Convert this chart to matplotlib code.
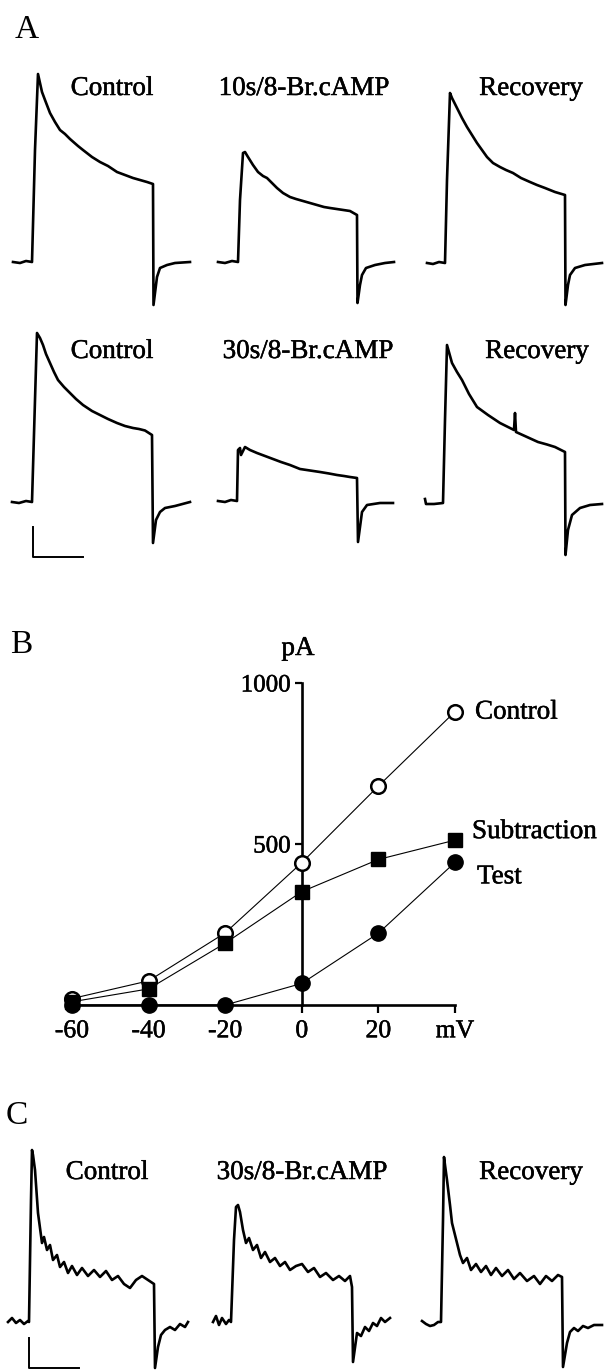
import matplotlib
matplotlib.use("Agg")
import matplotlib.pyplot as plt
import matplotlib.patheffects as pe

# ---------------- data ----------------
# Panel A / C traces: time (ms, 0 = pulse onset) and current (pA, 0 = holding level)
A1_ctrl_t = [-19, -12, -6, 0, 3, 6, 10, 13, 18, 23, 28, 33, 38, 46, 51, 60, 68, 76, 85, 93, 101, 108, 115, 121, 121.5, 125, 128, 135, 143, 158]
A1_ctrl_i = [0, -10, 10, 0, 1120, 1880, 1700, 1620, 1490, 1400, 1320, 1280, 1230, 1160, 1120, 1050, 1000, 960, 900, 870, 840, 820, 800, 780, -430, -150, -60, -30, -10, 0]

A1_10s_t = [-20, -13, -6, 0, 2, 5, 7, 10, 15, 20, 25, 29, 34, 39, 45, 52, 58, 65, 72, 79, 86, 92, 102, 112, 119, 119.5, 122, 124, 128, 137, 147, 156]
A1_10s_i = [0, -10, 10, 0, 620, 1090, 1100, 1050, 970, 900, 860, 840, 790, 740, 690, 650, 630, 610, 590, 570, 550, 540, 525, 510, 470, -410, -230, -130, -60, -30, -10, 0]

A1_rec_t = [-18, -12, -6, 0, 2, 5, 7, 12, 17, 22, 27, 32, 37, 42, 48, 55, 61, 68, 76, 85, 92, 100, 110, 120, 120.5, 123, 125, 130, 140, 157]
A1_rec_i = [0, -10, 10, 0, 830, 1700, 1650, 1550, 1450, 1360, 1280, 1200, 1130, 1060, 1000, 960, 930, 900, 850, 810, 780, 750, 710, 680, -420, -220, -120, -50, -20, 0]

A2_ctrl_t = [-20, -13, -6, 0, 3, 5, 8, 11, 14, 18, 22, 26, 32, 38, 44, 51, 60, 68, 76, 85, 93, 101, 107, 113, 120, 121, 124, 128, 133, 143, 158]
A2_ctrl_i = [0, -10, 10, 0, 1020, 1690, 1640, 1570, 1480, 1390, 1300, 1220, 1150, 1090, 1030, 970, 910, 870, 830, 790, 760, 740, 730, 715, 670, -410, -180, -100, -60, -40, 0]

A2_30s_t = [-19, -12, -6, 0, 1, 3, 4, 8, 13, 20, 28, 36, 44, 53, 63, 73, 83, 92, 100, 107, 113, 120, 121, 125, 130, 143, 156]
A2_30s_i = [0, -10, 10, 0, 510, 530, 460, 540, 510, 480, 450, 420, 390, 360, 320, 305, 290, 275, 260, 250, 240, 230, -410, -110, -40, -20, -20]

A2_rec_t = [-18, -17, -9, 0, 2, 4, 9, 14, 19, 26, 34, 45, 57, 65, 71, 72, 73, 84, 95, 104, 112, 122, 122.5, 125, 129, 137, 147, 159]
A2_rec_i = [40, -10, -10, 0, 830, 1580, 1400, 1310, 1230, 1090, 960, 880, 800, 760, 730, 900, 710, 660, 610, 585, 560, 510, -520, -270, -120, -50, -20, -10]

C_ctrl_t = [-21, -17, -13, -9, -5, -1, 0, 2, 3, 4, 6, 9, 13, 15, 18, 21, 24, 28, 31, 35, 39, 43, 48, 53, 59, 65, 71, 77, 83, 89, 95, 101, 107, 113, 119, 125,
            126, 129, 132, 136, 141, 146, 151, 156, 159]
C_ctrl_i = [0, 40, -10, 20, -20, 10, 0, 1220, 1720, 1670, 1520, 1090, 790, 850, 720, 770, 620, 670, 550, 600, 490, 560, 470, 540, 460, 520, 450, 510, 420, 460, 380, 340, 420, 460, 420, 380,
            -460, -250, -130, -80, -50, -80, -20, -50, 0]

C_30s_t = [-18, -15, -12, -9, -5, -2, 0, 3, 5, 7, 9, 12, 15, 18, 22, 26, 30, 34, 39, 44, 49, 54, 59, 65, 71, 77, 83, 89, 95, 102, 108, 114, 119, 121,
           122, 126, 130, 134, 138, 142, 146, 150, 154, 159]
C_30s_i = [0, 60, -30, 40, -20, 20, 0, 820, 1150, 1170, 1100, 920, 790, 840, 720, 770, 640, 700, 600, 640, 560, 600, 520, 560, 580, 500, 540, 450, 490, 420, 460, 410, 460, 350,
           -400, -110, -140, -50, -90, -10, -40, 40, 0, 40]

C_rec_t = [-19, -15, -11, -7, -3, 0, 2, 3, 4, 6, 9, 11, 14, 16, 19, 22, 26, 30, 35, 40, 45, 50, 55, 61, 67, 73, 79, 86, 93, 99, 105, 111, 117, 121,
           122, 126, 129, 133, 137, 142, 147, 153, 161]
C_rec_i = [10, -20, -40, -30, 0, 0, 1020, 1650, 1570, 1420, 1170, 990, 870, 790, 670, 590, 640, 520, 580, 500, 560, 470, 540, 460, 520, 430, 490, 410, 460, 380, 460, 410, 470, 450,
           -450, -210, -100, -60, -90, -40, -60, -30, -30]

# scale bar (ms, pA)
SCALE_T = 50
SCALE_I = 300

# Panel B: I-V relation
iv_mV = [-60, -40, -20, 0, 20, 40]
iv_control = [20, 75, 224, 442, 680, 911]
iv_subtraction = [10, 50, 192, 352, 452, 512]
iv_test = [0, 0, 0, 67, 223, 443]
iv_xticklabels = ["-60", "-40", "-20", "0", "20", "mV"]
iv_yticks = [500, 1000]

# ---------------- figure ----------------
W, H = 604, 1370
plt.rcParams["font.family"] = ["Liberation Serif", "DejaVu Serif"]
fig = plt.figure(figsize=(W / 100, H / 100), dpi=100)
fig.patch.set_facecolor("white")

T0, T1 = -25, 170
I0, I1 = -700, 2000
PX_PER_MS = 1.0
PX_PER_PA = 0.1
LW = 1.9
BOLDEN = [pe.withStroke(linewidth=0.35, foreground="black")]


def trace_axes(x_on, y_base):
    left = x_on + T0 * PX_PER_MS
    width = (T1 - T0) * PX_PER_MS
    top = y_base - I1 * PX_PER_PA
    height = (I1 - I0) * PX_PER_PA
    bottom = H - (top + height)
    ax = fig.add_axes([left / W, bottom / H, width / W, height / H])
    ax.set_xlim(T0, T1)
    ax.set_ylim(I0, I1)
    ax.axis("off")
    ax.patch.set_alpha(0)
    return ax


def draw_trace(x_on, y_base, t, i):
    ax = trace_axes(x_on, y_base)
    ax.plot(t, i, color="black", lw=LW, solid_joinstyle="round", clip_on=False)
    return ax


def label(x, y, s, size=19.5, ha="center", effects=BOLDEN):
    fig.text(x / W, 1 - y / H, s, ha=ha, va="baseline", fontsize=size, path_effects=effects)


# Panel A row 1
draw_trace(32, 262, A1_ctrl_t, A1_ctrl_i)
draw_trace(238, 262, A1_10s_t, A1_10s_i)
draw_trace(445, 263, A1_rec_t, A1_rec_i)
# Panel A row 2
ax_sb = draw_trace(32, 502, A2_ctrl_t, A2_ctrl_i)
ax_sb.plot([1, 1, 1 + SCALE_T], [-550 + SCALE_I, -550, -550], color="black", lw=1.4, clip_on=False)
draw_trace(237, 501, A2_30s_t, A2_30s_i)
draw_trace(443, 503, A2_rec_t, A2_rec_i)
# Panel C
ax_sc = draw_trace(29, 1322, C_ctrl_t, C_ctrl_i)
ax_sc.plot([0, 0, SCALE_T], [-460 + SCALE_I, -460, -460], color="black", lw=1.4, clip_on=False)
draw_trace(231, 1322, C_30s_t, C_30s_i)
draw_trace(441, 1322, C_rec_t, C_rec_i)

# labels
label(27, 38, "A", size=24, effects=[])
label(21, 653, "B", size=24, effects=[])
label(17, 1124, "C", size=24, effects=[])

label(112, 95, "Control")
label(304, 95, "10s/8-Br.cAMP")
label(531, 95, "Recovery")
label(112, 358, "Control")
label(308, 358, "30s/8-Br.cAMP")
label(537, 358, "Recovery")
label(107, 1179, "Control")
label(302, 1179, "30s/8-Br.cAMP")
label(531, 1179, "Recovery")

# Panel B
bx_l, bx_r, by_t, by_b = 72, 455, 683, 1005
axB = fig.add_axes([bx_l / W, (H - by_b) / H, (bx_r - bx_l) / W, (by_b - by_t) / H])
axB.patch.set_alpha(0)
axB.set_xlim(-60, 40)
axB.set_ylim(0, 1000)
for s in ("top", "right"):
    axB.spines[s].set_visible(False)
axB.spines["left"].set_position(("data", 0))
axB.spines["left"].set_linewidth(1.9)
axB.spines["bottom"].set_linewidth(1.9)
axB.set_xticks(iv_mV)
axB.set_xticklabels(iv_xticklabels)
axB.set_yticks(iv_yticks)
axB.set_yticklabels([str(v) for v in iv_yticks])
axB.tick_params(axis="x", direction="out", length=6, width=1.6, pad=5, labelsize=18.5)
axB.tick_params(axis="y", direction="out", length=5, width=1.6, pad=3, labelsize=18)
for lab in axB.get_xticklabels() + axB.get_yticklabels():
    lab.set_path_effects(BOLDEN)

axB.plot(iv_mV, iv_control, color="black", lw=0.8, marker="o", ms=10.5, mfc="white",
         mec="black", mew=1.8, clip_on=False, zorder=3)
axB.plot(iv_mV, iv_subtraction, color="black", lw=0.8, marker="s", ms=10.5, mfc="black",
         mec="black", clip_on=False, zorder=4)
axB.plot(iv_mV, iv_test, color="black", lw=0.8, marker="o", ms=11, mfc="black",
         mec="black", clip_on=False, zorder=5)

axB.annotate("Control", (iv_mV[-1], iv_control[-1]), xytext=(20, -7), textcoords="offset pixels",
             ha="left", va="baseline", fontsize=19.5, path_effects=BOLDEN)
axB.annotate("Subtraction", (iv_mV[-1], iv_subtraction[-1]), xytext=(17, 2), textcoords="offset pixels",
             ha="left", va="baseline", fontsize=19.5, path_effects=BOLDEN)
axB.annotate("Test", (iv_mV[-1], iv_test[-1]), xytext=(22, -21), textcoords="offset pixels",
             ha="left", va="baseline", fontsize=19.5, path_effects=BOLDEN)
label(298, 655, "pA")

fig.savefig("out.png", dpi=100, facecolor="white")
